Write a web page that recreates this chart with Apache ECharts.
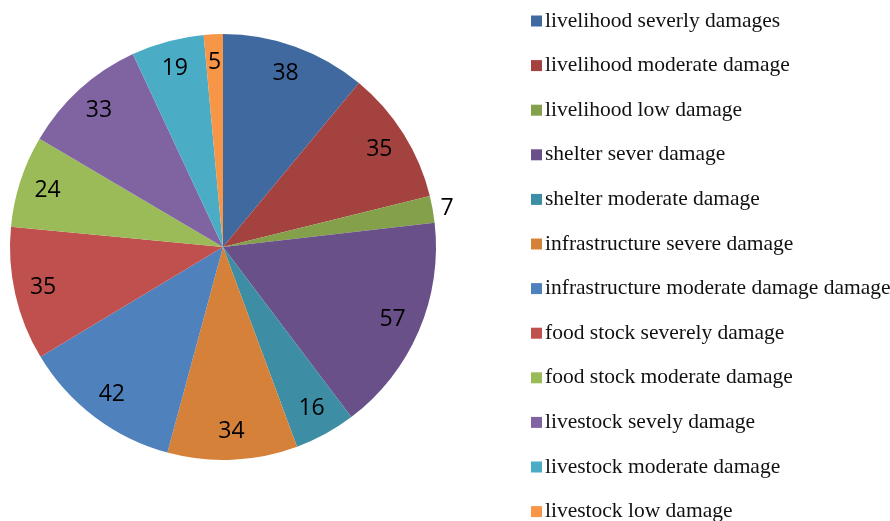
<!DOCTYPE html>
<html>
<head>
<meta charset="utf-8">
<script src="https://cdn.jsdelivr.net/npm/echarts@6/dist/echarts.min.js"></script>
<style>
  html, body { margin: 0; padding: 0; background: #fff; }
  #chart { width: 890px; height: 521px; }
</style>
</head>
<body>
<div id="chart"></div>
<script>
// 类别
const categories = [
  'livelihood severly damages',
  'livelihood moderate damage',
  'livelihood low damage',
  'shelter sever damage',
  'shelter moderate damage',
  'infrastructure severe damage',
  'infrastructure moderate damage damage',
  'food stock severely damage',
  'food stock moderate damage',
  'livestock sevely damage',
  'livestock moderate damage',
  'livestock low damage'
]
// 数值
const values = [38, 35, 7, 57, 16, 34, 42, 35, 24, 33, 19, 5]
// 颜色
const colors = [
  '#4069A0', '#A3423F', '#84A04A', '#6A5089', '#3D8EA4', '#D68139',
  '#4F81BD', '#C0504D', '#9BBB59', '#8064A2', '#4BACC6', '#F79646'
]
// 标签放在外面的项
const outsideLabels = ['livelihood low damage']

const pieData = categories.map((name, i) => ({ name: name, value: values[i] }))
const labelData = categories.map((name, i) => {
  const item = { name: name, value: values[i] }
  if (outsideLabels.indexOf(name) >= 0) {
    item.label = { position: 'outside', distanceToLabelLine: 0 }
  }
  return item
})

const myChart = echarts.init(document.getElementById('chart'))
myChart.setOption({
  animation: false,
  color: colors,
  legend: {
    orient: 'vertical',
    left: 531,
    top: 10,
    height: 600,
    padding: 0,
    itemWidth: 11,
    itemHeight: 11,
    itemGap: 22.6,
    icon: 'rect',
    selectedMode: false,
    textStyle: {
      fontFamily: '"Liberation Serif", "Times New Roman", serif',
      fontSize: 21.5,
      color: '#111',
      lineHeight: 22,
      padding: [0, 0, 0, -2]
    },
    data: categories
  },
  series: [
    {
      // 扇形
      type: 'pie',
      center: [223, 247],
      radius: [0, 213],
      startAngle: 90,
      clockwise: true,
      silent: true,
      label: { show: false },
      labelLine: { show: false },
      itemStyle: { borderWidth: 0 },
      data: pieData
    },
    {
      // 数字标签
      type: 'pie',
      center: [223, 247],
      radius: [150, 213],
      startAngle: 90,
      clockwise: true,
      silent: true,
      legendHoverLink: false,
      itemStyle: { color: 'rgba(0,0,0,0)', borderWidth: 0 },
      label: {
        show: true,
        position: 'inside',
        formatter: '{c}',
        fontFamily: 'Open Sans',
        fontSize: 23,
        color: '#000'
      },
      labelLine: { show: false, length: 4, length2: 4 },
      data: labelData
    }
  ]
})
</script>
</body>
</html>
